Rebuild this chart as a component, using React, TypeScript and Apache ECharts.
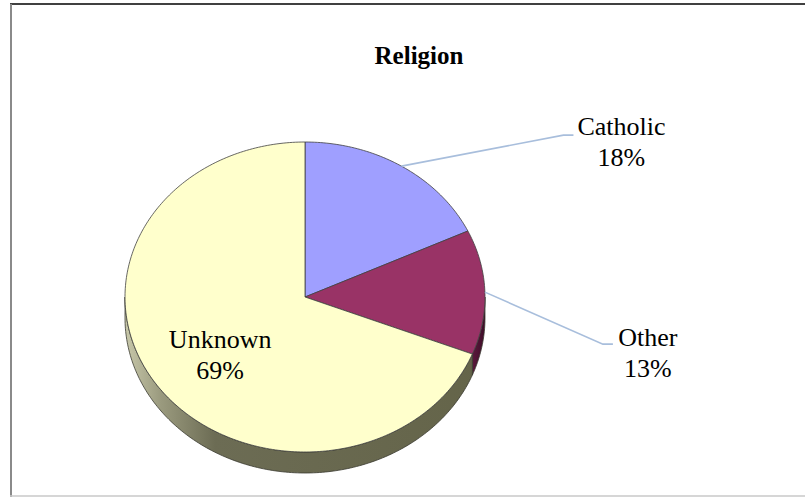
import React, { useEffect, useRef } from "react";
import * as echarts from "echarts";

const categories = ["Catholic", "Other", "Unknown"];
const values = [18, 13, 69];
const topColors = ["#9f9fff", "#993366", "#ffffcc"];
const sideColors = ["#6a6ab0", "#5a1a3e", "#6a6a52"];

// label layout (leader elbow offset from slice edge, text offset from tail end)
const labelLayout = [
  { inside: false, elbow: [162, -31], tail: 10, text: [48, 7] },
  { inside: false, elbow: [118, 52], tail: 10, text: [35, 9] },
  { inside: true, fx: 0.57, fy: 0.66 },
];

const CX = 305;
const CY = 297;
const RX = 180;
const RY = 155;
const DEPTH = 21;
const FONT = "Times New Roman, Liberation Serif, serif";

function pt(deg: number, dy = 0, f = 1): number[] {
  const r = (deg * Math.PI) / 180;
  return [CX + RX * f * Math.sin(r), CY - RY * f * Math.cos(r) + dy];
}

function arc(a0: number, a1: number, dy = 0): number[][] {
  const out: number[][] = [];
  const n = Math.max(2, Math.ceil(Math.abs(a1 - a0) / 1));
  for (let i = 0; i <= n; i++) out.push(pt(a0 + ((a1 - a0) * i) / n, dy));
  return out;
}

export default function App() {
  const ref = useRef<HTMLDivElement>(null);
  useEffect(() => {
    if (!ref.current) return;
    const chart = echarts.init(ref.current, null, { renderer: "svg" });
    const total = values.reduce((a, b) => a + b, 0);
    const starts: number[] = [];
    let acc = 0;
    values.forEach((v) => {
      starts.push((acc / total) * 360);
      acc += v;
    });

    const renderItem = (params: any) => {
      const i = params.dataIndex;
      const v = values[i];
      const a0 = starts[i];
      const a1 = a0 + (v / total) * 360;
      const children: any[] = [];
      const s0 = Math.max(a0, 90);
      const s1 = Math.min(a1, 270);
      if (s1 > s0) {
        const topArc = arc(s0, s1);
        const botArc = arc(s0, s1, DEPTH).reverse();
        let fill: any = sideColors[i];
        if (i === 2) {
          fill = new echarts.graphic.LinearGradient(
            CX - RX, 0, CX + RX, 0,
            [
              { offset: 0, color: "#c8c8aa" },
              { offset: 0.1, color: "#9a9a7e" },
              { offset: 0.25, color: "#6c6c54" },
              { offset: 1, color: "#646449" },
            ],
            true
          );
        } else if (i === 1) {
          fill = new echarts.graphic.LinearGradient(
            CX + RX - 20, 0, CX + RX, 0,
            [
              { offset: 0, color: "#6a2248" },
              { offset: 1, color: "#3e0c28" },
            ],
            true
          );
        }
        children.push({
          type: "polygon",
          z2: 5,
          shape: { points: topArc.concat(botArc) },
          style: { fill, stroke: "#3a3a30", lineWidth: 0.8 },
        });
      }
      children.push({
        type: "polygon",
        z2: 10,
        shape: { points: [[CX, CY]].concat(arc(a0, a1)) },
        style: { fill: topColors[i], stroke: "#404040", lineWidth: 0.8 },
      });
      const mid = (a0 + a1) / 2;
      const lay: any = labelLayout[i];
      const txt = `${categories[i]}\n${Math.round((v / total) * 100)}%`;
      const textStyle = {
        text: txt,
        fill: "#000",
        fontSize: 26,
        fontFamily: FONT,
        align: "center",
        verticalAlign: "middle",
        lineHeight: 31,
      };
      if (lay.inside) {
        const r = (mid * Math.PI) / 180;
        const x = CX + RX * lay.fx * Math.sin(r);
        const y = CY - RY * lay.fy * Math.cos(r);
        children.push({ type: "text", z2: 20, x, y, style: textStyle });
      } else {
        const p0 = pt(mid);
        const p1 = [p0[0] + lay.elbow[0], p0[1] + lay.elbow[1]];
        const p2 = [p1[0] + lay.tail, p1[1]];
        children.push({
          type: "polyline",
          z2: 15,
          shape: { points: [p0, p1, p2] },
          style: { stroke: "#a8bedc", lineWidth: 1.6, fill: "none" },
        });
        children.push({
          type: "text",
          z2: 20,
          x: p2[0] + lay.text[0],
          y: p2[1] + lay.text[1],
          style: textStyle,
        });
      }
      return { type: "group", children };
    };

    chart.setOption({
      animation: false,
      backgroundColor: "#ffffff",
      title: {
        text: "Religion",
        left: 414,
        top: 38,
        textAlign: "center",
        textStyle: {
          fontFamily: FONT,
          fontWeight: "bold",
          fontSize: 25,
          color: "#000",
        },
      },
      graphic: [
        {
          type: "line",
          shape: { x1: 10, y1: 4, x2: 805, y2: 4 },
          style: { stroke: "#000", lineWidth: 1.5 },
        },
        {
          type: "line",
          shape: { x1: 11, y1: 4, x2: 11, y2: 497 },
          style: { stroke: "#8a8a8a", lineWidth: 2 },
        },
        {
          type: "line",
          shape: { x1: 10, y1: 496, x2: 805, y2: 496 },
          style: { stroke: "#c8c8c8", lineWidth: 1.5 },
        },
      ],
      series: [
        {
          type: "custom",
          coordinateSystem: "none",
          renderItem,
          data: values.map((v, i) => ({ name: categories[i], value: v })),
        },
      ],
    });
    return () => chart.dispose();
  }, []);
  return (
    <div
      ref={ref}
      style={{ position: "fixed", left: 0, top: 0, width: 805, height: 497 }}
    />
  );
}
